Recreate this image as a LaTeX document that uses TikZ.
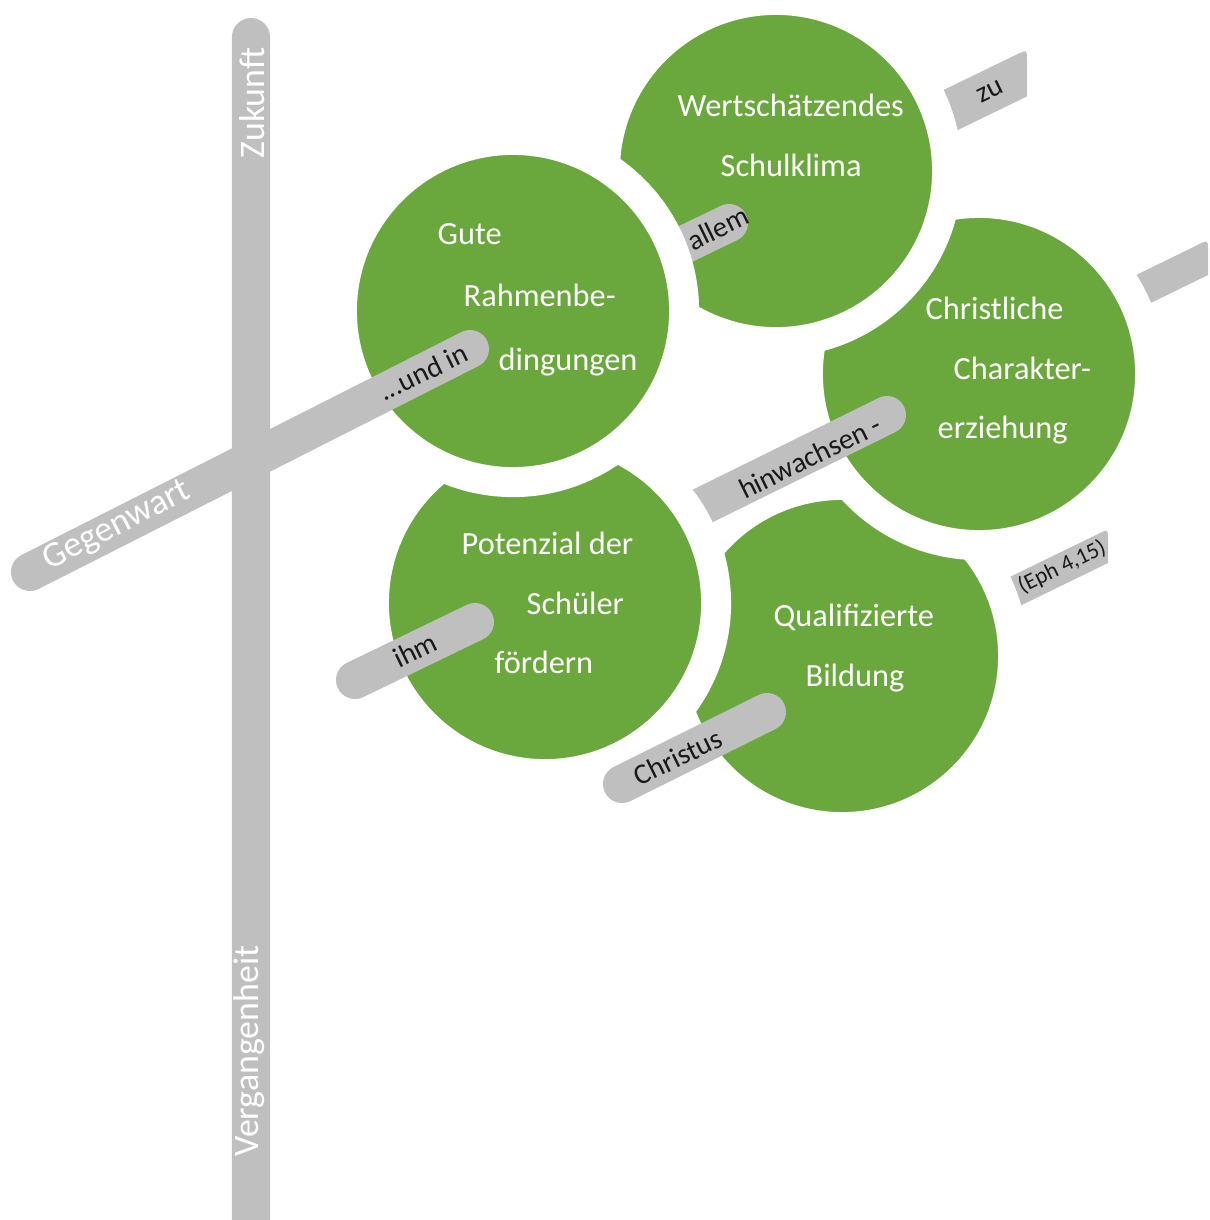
\documentclass[tikz,border=0pt]{standalone}
\usepackage{fontspec}
\setmainfont{Carlito}
\usetikzlibrary{calc}

\definecolor{blattgruen}{RGB}{106,168,62}
\definecolor{balkengrau}{RGB}{191,191,191}

\tikzset{
    kreis/.style={circle, fill=blattgruen, draw=white, line width=0.3cm, minimum size=3.42cm, inner sep=0pt},
    balken/.style={draw=balkengrau, line width=0.38cm, line cap=round},
    kreistext/.style={anchor=mid west, text=white, inner sep=0pt, font=\fontsize{9.2}{11}\selectfont},
    balkentext/.style={text=black!90, inner sep=0pt, rotate=26, font=\fontsize{8.2}{10}\selectfont},
    zeittext/.style={text=white, inner sep=0pt, font=\fontsize{10.2}{12}\selectfont},
}

\begin{document}
\begin{tikzpicture}[x=0.01cm,y=-0.01cm]
    \useasboundingbox (0,0) rectangle (1210,1220);

    \coordinate (zeitO) at (251,37);
    \coordinate (zeitU) at (251,1250);
    \coordinate (gegenL) at (30,572);
    \coordinate (gegenR) at (470,349);
    \coordinate (allemL) at (640,266);
    \coordinate (allemR) at (729,223);
    \coordinate (hinL) at (660,527);
    \coordinate (hinR) at (887,415);
    \coordinate (ihmL) at (355,680);
    \coordinate (ihmR) at (475,622);
    \coordinate (christL) at (622,784);
    \coordinate (christR) at (767,712);

    % \foreach \p in {zeitO,gegenL,gegenR,allemR,hinR,ihmL,ihmR,christL,christR}{
    %     \filldraw[red] (\p) circle (3) node[above] {\p};
    % }

    % Reste rechts, von den Kreisen angeschnitten
    \fill[balkengrau] (925,146) -- (925,99) -- (1017,54.3) .. controls (1027,49.5) .. (1027,60) -- (1027,96.4) -- cycle;
    \fill[balkengrau] (1120,318) -- (1120,283) -- (1198,244.7) .. controls (1208,239.8) .. (1208,250) -- (1208,275) -- cycle;
    \fill[balkengrau] (990,620.5) -- (990,586.6) -- (1099,533.5) .. controls (1108,529.1) .. (1108,539) -- (1108,563) -- cycle;

    \node[kreis] (bildung) at (842,656) {};
    \node[kreis] (charakter) at (979,374) {};
    \draw[balken] (hinL) -- (hinR);
    \node[kreis] (potenzial) at (545,603) {};
    \node[kreis] (klima) at (776,171) {};
    \draw[balken] (allemL) -- (allemR);
    \node[kreis] (gute) at (513,311) {};
    \draw[balken] (ihmL) -- (ihmR);
    \draw[balken] (christL) -- (christR);
    \draw[balken] (zeitU) -- (zeitO) (gegenL) -- (gegenR);

    \node[kreistext] (g1) at (437,236) {Gute};
    \node[kreistext] (g2) at (463,298) {Rahmenbe-};
    \node[kreistext] (g3) at (498,362) {dingungen};
    \node[kreistext] (k1) at (677,108) {Wertschätzendes};
    \node[kreistext] (k2) at (720,168) {Schulklima};
    \node[kreistext] (c1) at (925,311) {Christliche};
    \node[kreistext] (c2) at (953,371) {Charakter-};
    \node[kreistext] (c3) at (937,430) {erziehung};
    \node[kreistext] (p1) at (461,546) {Potenzial der};
    \node[kreistext] (p2) at (526,606) {Schüler};
    \node[kreistext] (p3) at (494,665) {fördern};
    \node[kreistext] (b1) at (773,618) {Qualifizierte};
    \node[kreistext] (b2) at (805,678) {Bildung};

    \node[zeittext, rotate=90] (zukunft) at (252,103) {Zukunft};
    \node[zeittext, rotate=90] (vergangen) at (249,1051) {Vergangenheit};
    \node[zeittext, rotate=27] (gegenwart) at (117,526) {Gegenwart};

    \node[balkentext] (undin) at (423,372) {...und in};
    \node[balkentext] (allem) at (718,228) {allem};
    \node[balkentext] (zu) at (990,92) {zu};
    \node[balkentext] (hinwachsen) at (810,457) {hinwachsen -};
    \node[balkentext] (ihm) at (415,650) {ihm};
    \node[balkentext] (christus) at (678,757) {Christus};
    \node[balkentext, font=\fontsize{6.5}{8}\selectfont] (eph) at (1062,567) {(Eph 4,15)};

\end{tikzpicture}
\end{document}
